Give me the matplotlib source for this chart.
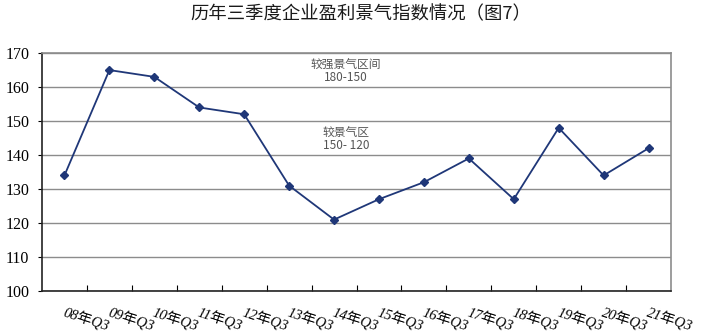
# -*- coding: utf-8 -*-

import matplotlib
matplotlib.use("Agg")
import matplotlib.pyplot as plt
import numpy as np

### Données

annees = ["08", "09", "10", "11", "12", "13", "14", "15", "16", "17", "18", "19", "20", "21"]
etiquettes = [a + "年Q3" for a in annees]
indice = [134, 165, 163, 154, 152, 131, 121, 127, 132, 139, 127, 148, 134, 142]

### Couleurs

bleu = "#1f3778"
gris = "#8c8c8c"

cjk = ["Noto Sans CJK SC", "DejaVu Sans"]
serif = ["Liberation Serif", "Noto Sans CJK SC"]

fig = plt.figure(figsize=(7.07, 3.36), dpi=100)
ax = fig.add_axes([0.0594, 0.134, 0.8897, 0.708])

x = np.arange(len(indice))
ax.plot(x, indice, color=bleu, lw=1.3, marker="D", ms=4.5, zorder=3)

ax.set_xlim(-0.5, len(indice) - 0.5)
ax.set_ylim(100, 170)
ax.set_yticks(np.arange(100, 171, 10))
ax.grid(axis="y", color=gris, lw=1)

for lbl in ax.get_yticklabels():
    lbl.set_family(serif)
    lbl.set_fontsize(11.5)
ax.tick_params(axis="y", length=3, color="black", pad=6)

# ticks entre les catégories, étiquettes en dessous
ax.set_xticks(np.arange(len(indice) - 1) + 0.5)
ax.set_xticklabels([])
ax.tick_params(axis="x", direction="in", length=4, color="black")
for i, t in enumerate(etiquettes):
    ax.text(i + 0.02, 95.7, t, rotation=-18, rotation_mode="anchor", ha="left", va="top",
            family=serif, fontsize=10.5, style="italic", clip_on=False)

for s in ["top", "right"]:
    ax.spines[s].set_color(gris)
    ax.spines[s].set_linewidth(1.2)
for s in ["left", "bottom"]:
    ax.spines[s].set_color("#222222")
    ax.spines[s].set_linewidth(1.2)

ax.text(6.27, 164.6, "较强景气区间\n180-150", ha="center", va="center", fontsize=8.5,
        color="#555555", family=cjk, linespacing=0.9)
ax.text(6.27, 144.6, "较景气区\n150- 120", ha="center", va="center", fontsize=8.5,
        color="#555555", family=cjk, linespacing=0.9)

fig.text(0.511, 0.958, "历年三季度企业盈利景气指数情况（图7）", ha="center", va="center",
         fontsize=13.2, family=cjk, weight="medium", color="#1a1a1a")

fig.savefig("out.png", dpi=100)
